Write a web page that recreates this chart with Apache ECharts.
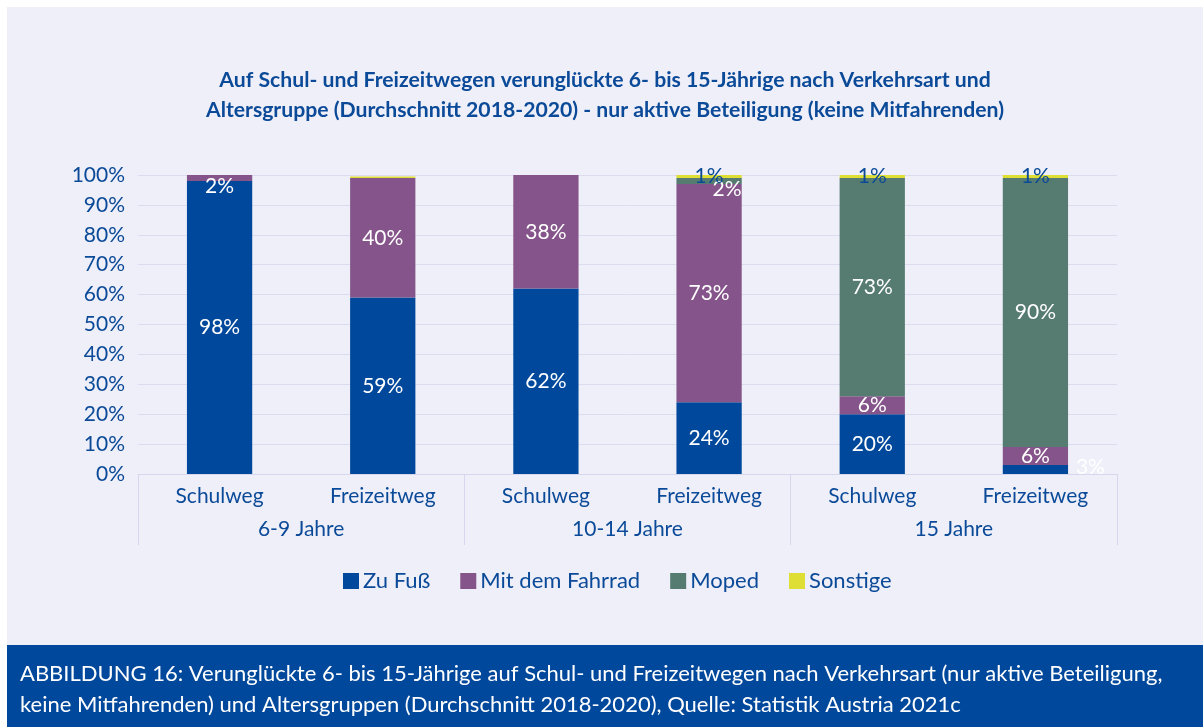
<!DOCTYPE html>
<html>
<head>
<meta charset="utf-8">
<script src="https://cdn.jsdelivr.net/npm/echarts@6/dist/echarts.min.js"></script>
<style>
  html, body { margin: 0; padding: 0; background: #fff; }
  #chart { position: absolute; left: 7px; top: 7px; width: 1196px; height: 720px; }
</style>
</head>
<body>
<div id="chart"></div>
<script>
  // Kategorien
  var categories = ['Schulweg', 'Freizeitweg', 'Schulweg', 'Freizeitweg', 'Schulweg', 'Freizeitweg'];
  var groups = ['6-9 Jahre', '10-14 Jahre', '15 Jahre'];
  var yTicks = [0, 10, 20, 30, 40, 50, 60, 70, 80, 90, 100];

  // Werte in %
  var zuFuss   = [98, 59, 62, 24, 20, 3];
  var fahrrad  = [2, 40, 38, 73, 6, 6];
  var moped    = [0, 0, 0, 2, 73, 90];
  var sonstige = [0, 0.5, 0, 1, 1, 1];

  var blue = '#0b4a98';
  var font = 'Lato';

  // label offsets for the small segments
  var offsets = {
    'Zu Fuß': { 5: [55, -2] },
    'Mit dem Fahrrad': { 0: [0, 8] },
    'Moped': { 3: [18, 8] }
  };

  function makeSeries(name, values, color, labelColor) {
    var off = offsets[name] || {};
    return {
      name: name,
      type: 'bar',
      stack: 'total',
      barWidth: '40%',
      itemStyle: { color: color },
      label: {
        show: true,
        position: 'inside',
        color: labelColor,
        fontFamily: font,
        fontSize: 21,
        formatter: function (p) {
          return p.value < 1 ? '' : Math.round(p.value) + '%';
        }
      },
      data: values.map(function (v, i) {
        if (off[i]) {
          return { value: v, label: { offset: off[i] } };
        }
        return v;
      })
    };
  }

  var myChart = echarts.init(document.getElementById('chart'));
  myChart.setOption({
    backgroundColor: '#eeeff8',
    animation: false,
    color: ['#00489b', '#85548a', '#567b71', '#dede34'],
    title: {
      text: 'Auf Schul- und Freizeitwegen verunglückte 6- bis 15-Jährige nach Verkehrsart und\nAltersgruppe (Durchschnitt 2018-2020) - nur aktive Beteiligung (keine Mitfahrenden)',
      left: 'center',
      top: 53,
      textStyle: {
        color: blue,
        fontFamily: font,
        fontSize: 21.2,
        fontWeight: 'bold',
        lineHeight: 30
      }
    },
    legend: {
      data: ['Zu Fuß', 'Mit dem Fahrrad', 'Moped', 'Sonstige'],
      left: 331,
      top: 558,
      icon: 'rect',
      itemWidth: 16,
      itemHeight: 16,
      itemGap: 30,
      textStyle: { color: blue, fontFamily: font, fontSize: 22, padding: [0, 0, 0, -1] }
    },
    grid: {
      left: 131,
      right: 86,
      top: 168,
      bottom: 253
    },
    xAxis: [
      {
        type: 'category',
        data: categories,
        axisLine: { show: true, lineStyle: { color: '#d6d6ec', width: 1 } },
        axisTick: { show: false },
        axisLabel: { color: blue, fontFamily: font, fontSize: 21, margin: 12, interval: 0 }
      },
      {
        type: 'category',
        position: 'bottom',
        data: groups,
        axisLine: { show: false },
        axisTick: { show: true, length: 71, interval: 0, lineStyle: { color: '#d6d6ec' } },
        axisLabel: { color: blue, fontFamily: font, fontSize: 21, margin: 45, interval: 0 },
        splitLine: { show: false }
      }
    ],
    yAxis: {
      type: 'value',
      min: yTicks[0],
      max: yTicks[yTicks.length - 1],
      interval: 10,
      axisLine: { show: false },
      axisTick: { show: false },
      splitLine: { lineStyle: { color: '#dcdcef', width: 1 } },
      axisLabel: {
        color: blue,
        fontFamily: font,
        fontSize: 21,
        margin: 13,
        formatter: '{value}%'
      }
    },
    series: [
      makeSeries('Zu Fuß', zuFuss, '#00489b', '#fff'),
      makeSeries('Mit dem Fahrrad', fahrrad, '#85548a', '#fff'),
      makeSeries('Moped', moped, '#567b71', '#fff'),
      makeSeries('Sonstige', sonstige, '#dede34', blue)
    ],
    graphic: [
      {
        type: 'rect',
        left: 0,
        top: 638,
        shape: { width: 1196, height: 82 },
        style: { fill: '#00489b' }
      },
      {
        type: 'text',
        left: 13,
        top: 651,
        style: {
          text: 'ABBILDUNG 16: Verunglückte 6- bis 15-Jährige auf Schul- und Freizeitwegen nach Verkehrsart (nur aktive Beteiligung,\nkeine Mitfahrenden) und Altersgruppen (Durchschnitt 2018-2020), Quelle: Statistik Austria 2021c',
          fill: '#fff',
          font: '22px Lato',
          lineHeight: 31
        }
      }
    ]
  });
</script>
</body>
</html>
